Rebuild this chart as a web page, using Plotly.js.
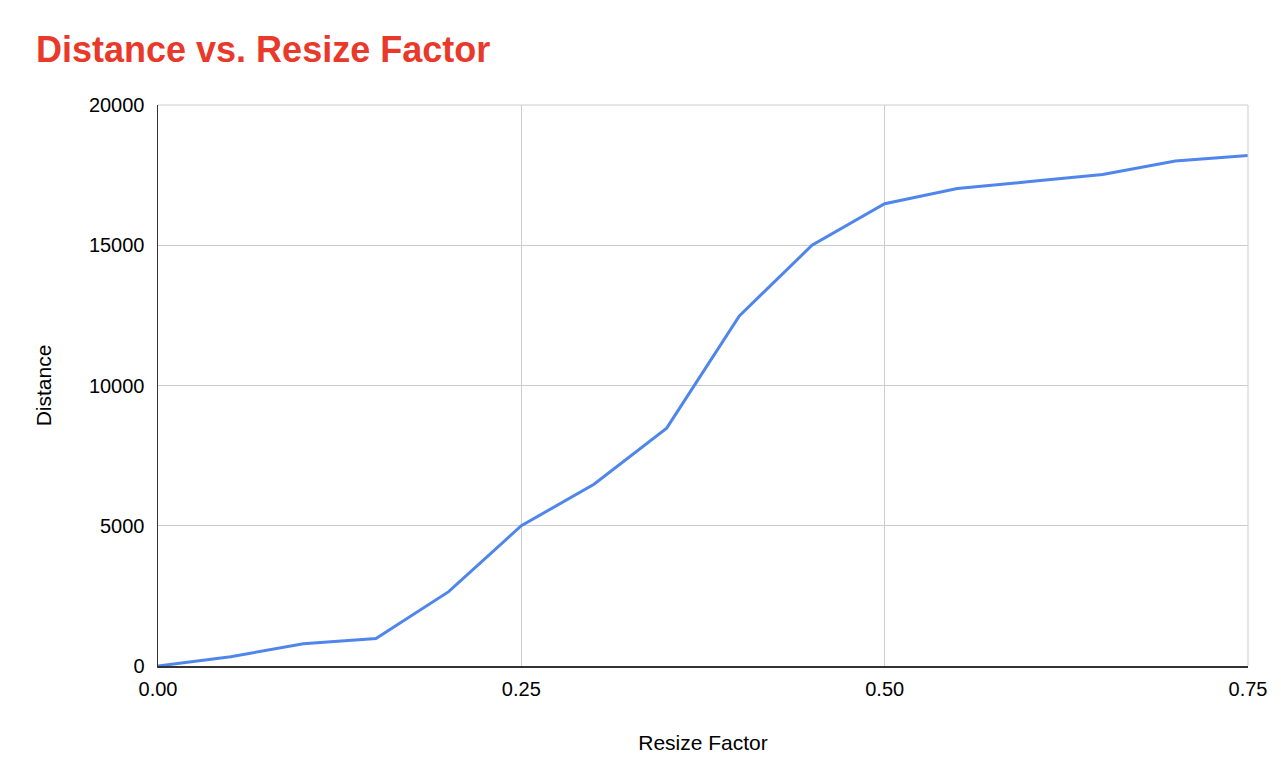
<!DOCTYPE html>
<html>
<head>
<meta charset="utf-8">
<script src="https://cdn.plot.ly/plotly-3.0.1.min.js"></script>
<style>html,body{margin:0;padding:0;background:#fff;}#chart{width:1281px;height:776px;}</style>
</head>
<body>
<div id="chart"></div>
<script>
const resizeFactor = [0.00, 0.05, 0.10, 0.15, 0.20, 0.25, 0.30, 0.35, 0.40, 0.45, 0.50, 0.55, 0.60, 0.65, 0.70, 0.75];
const distance = [0, 330, 790, 980, 2650, 5000, 6480, 8480, 12480, 15000, 16480, 17020, 17270, 17520, 18000, 18200];
const xTicks = [0, 0.25, 0.5, 0.75];
const yTicks = [0, 5000, 10000, 15000, 20000];

const trace = {
  x: resizeFactor,
  y: distance,
  type: 'scatter',
  mode: 'lines',
  line: {color: '#4f86ec', width: 3},
  hoverinfo: 'x+y'
};

const font = 'Arial, "Liberation Sans", Helvetica, sans-serif';

const layout = {
  width: 1281,
  height: 776,
  paper_bgcolor: '#ffffff',
  plot_bgcolor: '#ffffff',
  margin: {l: 158, r: 33, t: 105, b: 110},
  showlegend: false,
  title: {
    text: '<b>Distance vs. Resize Factor</b>',
    font: {family: font, size: 36, color: '#e8392b'},
    x: 36/1281, xanchor: 'left', xref: 'container',
    y: 1 - 49/776, yanchor: 'middle', yref: 'container'
  },
  xaxis: {
    range: [0, 0.75],
    tickvals: xTicks,
    tickformat: '.2f',
    showgrid: true,
    gridcolor: '#cccccc',
    gridwidth: 1,
    zeroline: false,
    showline: true,
    linecolor: '#333333',
    linewidth: 1.5,
    ticks: '',
    ticklabelstandoff: 4,
    tickfont: {family: font, size: 20, color: '#000000'},
    title: {text: 'Resize Factor', font: {family: font, size: 21, color: '#000000'}, standoff: 37},
    fixedrange: true
  },
  yaxis: {
    range: [0, 20000],
    tickvals: yTicks,
    tickformat: 'd',
    showgrid: true,
    gridcolor: '#cccccc',
    gridwidth: 1,
    zeroline: false,
    showline: true,
    linecolor: '#333333',
    linewidth: 1.5,
    ticks: '',
    ticklabelstandoff: 8,
    tickfont: {family: font, size: 20, color: '#000000'},
    title: {text: 'Distance', font: {family: font, size: 21, color: '#000000'}, standoff: 31},
    fixedrange: true
  },
  shapes: [
    {type: 'line', xref: 'paper', yref: 'paper', x0: 1, x1: 1, y0: 0, y1: 1, line: {color: '#cccccc', width: 1}},
    {type: 'line', xref: 'paper', yref: 'paper', x0: 0, x1: 1, y0: 1, y1: 1, line: {color: '#cccccc', width: 1}}
  ]
};

Plotly.newPlot('chart', [trace], layout, {displayModeBar: false, staticPlot: true});
</script>
</body>
</html>
